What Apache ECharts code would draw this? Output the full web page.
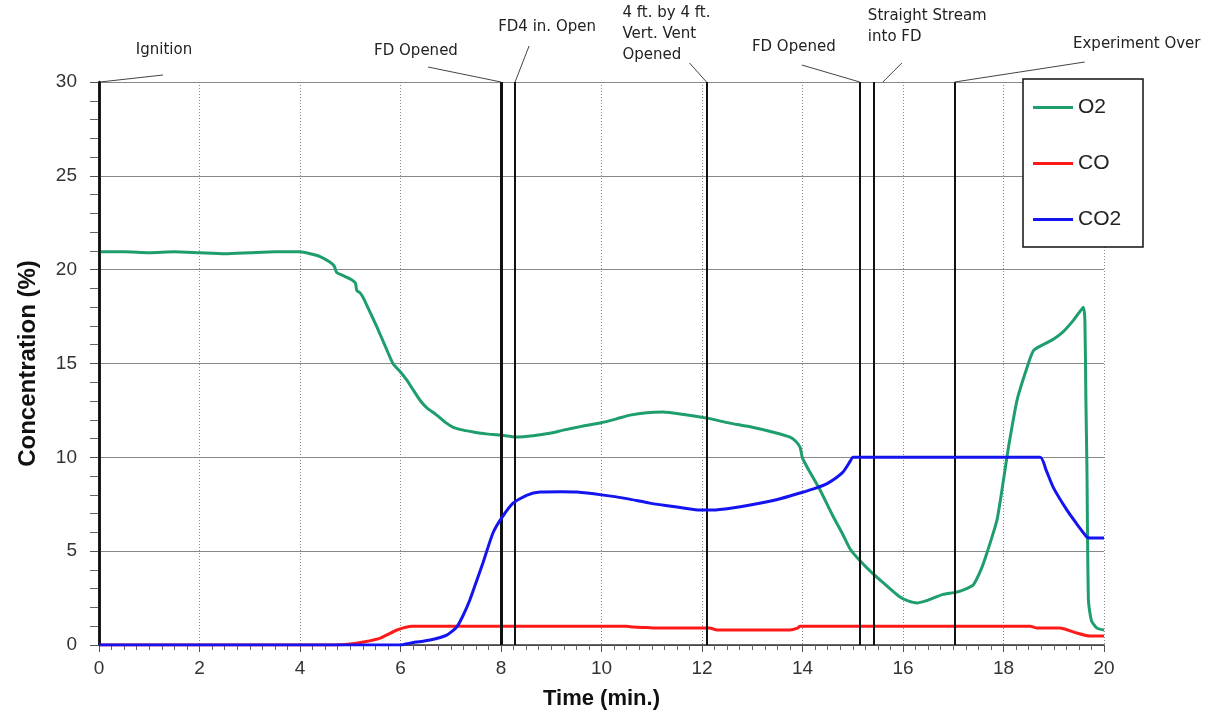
<!DOCTYPE html>
<html>
<head>
<meta charset="utf-8">
<script src="https://cdn.jsdelivr.net/npm/echarts@6/dist/echarts.min.js"></script>
<style>
html,body{margin:0;padding:0;background:#fff;}
#c{width:1221px;height:715px;}
</style>
</head>
<body>
<div id="c"></div>
<script>
// ---- Data ----
var seriesNames = ['O2', 'CO', 'CO2'];

var o2Time = [0,0.5,1,1.5,2,2.5,3,3.5,4,4.2,4.4,4.6,4.68,4.73,4.85,5.0,5.1,5.13,5.2,5.26,5.4,5.53,5.7,5.85,6.0,6.13,6.25,6.4,6.52,6.72,6.9,7.05,7.25,7.45,7.7,7.98,8.31,8.64,9.0,9.24,9.6,9.97,10.3,10.57,10.9,11.22,11.6,12.1,12.5,13.0,13.4,13.75,13.85,13.95,14.0,14.15,14.35,14.6,14.8,14.95,15.14,15.4,15.7,15.94,16.1,16.28,16.45,16.6,16.8,17.07,17.3,17.4,17.55,17.67,17.87,18.0,18.1,18.27,18.47,18.6,18.86,19.0,19.19,19.39,19.5,19.59,19.62,19.64,19.66,19.69,19.75,19.86,20.0];
var o2Val  = [20.95,20.95,20.9,20.95,20.9,20.85,20.9,20.95,20.95,20.85,20.7,20.4,20.2,19.85,19.7,19.5,19.3,18.9,18.75,18.5,17.7,16.95,15.9,15.0,14.55,14.1,13.6,13.0,12.65,12.25,11.85,11.6,11.45,11.35,11.25,11.19,11.08,11.15,11.3,11.45,11.65,11.83,12.05,12.25,12.38,12.41,12.3,12.09,11.85,11.6,11.35,11.08,10.9,10.55,9.96,9.2,8.26,6.9,5.9,5.1,4.5,3.8,3.1,2.56,2.35,2.24,2.35,2.5,2.7,2.82,3.05,3.2,4.0,4.9,6.66,8.8,10.55,13.05,14.8,15.7,16.1,16.3,16.7,17.3,17.7,18.0,17.3,13.0,9.5,2.4,1.3,0.9,0.8];

var coTime = [0,4.7,5.0,5.26,5.6,5.93,6.23,10.5,10.63,10.9,11.17,12.15,12.3,13.75,13.9,13.95,18.53,18.67,19.12,19.3,19.46,19.72,20.0];
var coVal  = [0,0,0.05,0.16,0.37,0.8,1.0,1.0,0.96,0.93,0.9,0.9,0.8,0.8,0.9,1.0,1.0,0.9,0.9,0.78,0.64,0.48,0.48];

var co2Time = [0,6.0,6.19,6.59,6.92,7.12,7.25,7.38,7.5,7.64,7.84,8.02,8.24,8.52,8.78,9.2,9.51,10.0,10.5,10.96,11.5,11.96,12.22,12.6,12.96,13.5,13.95,14.25,14.49,14.8,14.95,15.0,18.73,18.85,18.99,19.26,19.5,19.66,19.72,20.0];
var co2Val  = [0,0,0.1,0.27,0.53,0.96,1.6,2.4,3.3,4.37,5.97,6.8,7.56,7.99,8.15,8.17,8.15,8.0,7.8,7.56,7.35,7.19,7.19,7.3,7.46,7.75,8.1,8.35,8.6,9.2,9.8,10.0,10.0,9.3,8.4,7.2,6.3,5.75,5.7,5.7];

var eventTimes  = [0, 8.0, 8.28, 12.09, 15.14, 15.42, 17.03];
var eventLabels = ['Ignition', 'FD Opened', 'FD4 in. Open', '4 ft. by 4 ft.\nVert. Vent\nOpened', 'FD Opened', 'Straight Stream\ninto FD', 'Experiment Over'];

var xTicks = { min: 0, max: 20, interval: 2 };
var yTicks = { min: 0, max: 30, interval: 5 };

// ---- Styles / layout ----
var colors = ['#1e9e6c', '#ff1a1a', '#1414f0'];
var eventWidths = [2.5, 3, 2, 2, 2, 2, 2];
// per-event annotation layout: text anchor (dx from event px, y), align, line start (dx, y), line end dx
var annLayout = [
  { tx: 65,  ty: 50, align: 'center', lx: 64,  ly: 75, ex: 1 },
  { tx: -85, ty: 51, align: 'center', lx: -73, ly: 67, ex: 0 },
  { tx: 32,  ty: 27, align: 'center', lx: 14,  ly: 46, ex: 0 },
  { tx: -84, ty: 34, align: 'left',   lx: -17, ly: 63, ex: 0 },
  { tx: -66, ty: 47, align: 'center', lx: -58, ly: 65, ex: 0 },
  { tx: -6,  ty: 27, align: 'left',   lx: 28,  ly: 63, ex: 9 },
  { tx: 182, ty: 44, align: 'center', lx: 130, ly: 62, ex: 0 }
];

function pairs(t, v) { return t.map(function (x, i) { return [x, v[i]]; }); }

var chart = echarts.init(document.getElementById('c'), null, { renderer: 'canvas' });
var GRID = { left: 99, right: 117, top: 82, bottom: 70 };
var labelFont = { fontFamily: 'Liberation Sans', fontSize: 19, color: '#333' };

var option = {
  backgroundColor: '#fff',
  animation: false,
  grid: GRID,
  xAxis: {
    type: 'value', min: xTicks.min, max: xTicks.max, interval: xTicks.interval,
    name: 'Time (min.)', nameLocation: 'middle', nameGap: 43,
    nameTextStyle: { fontFamily: 'Liberation Sans', fontSize: 22, fontWeight: 'bold', color: '#111' },
    axisLine: { show: true, onZero: false, lineStyle: { color: '#333', width: 1.5 } },
    axisTick: { show: true, length: 7, lineStyle: { color: '#555' } },
    minorTick: { show: true, splitNumber: 8, length: 5, lineStyle: { color: '#666' } },
    axisLabel: Object.assign({ margin: 14 }, labelFont),
    splitLine: { show: true, lineStyle: { color: '#888', type: [1, 2], width: 1 } }
  },
  yAxis: {
    type: 'value', min: yTicks.min, max: yTicks.max, interval: yTicks.interval,
    name: 'Concentration (%)', nameLocation: 'middle', nameGap: 59,
    nameTextStyle: { fontFamily: 'Liberation Sans', fontSize: 24, fontWeight: 'bold', color: '#111' },
    axisLine: { show: true, onZero: false, lineStyle: { color: '#111', width: 2.5 } },
    axisTick: { show: true, length: 9, lineStyle: { color: '#555' } },
    minorTick: { show: true, splitNumber: 5, length: 9, lineStyle: { color: '#666' } },
    axisLabel: Object.assign({ margin: 22 }, labelFont),
    splitLine: { show: true, lineStyle: { color: '#888', width: 1 } }
  },
  legend: {
    show: true, orient: 'vertical', left: 1033, top: 97, z: 120, padding: 0,
    itemWidth: 40, itemHeight: 3, itemGap: 35, icon: 'rect',
    textStyle: { fontFamily: 'Liberation Sans', fontSize: 21, color: '#222' },
    data: seriesNames
  },
  series: [
    {
      name: seriesNames[0], type: 'line', showSymbol: false, symbol: 'none',
      data: pairs(o2Time, o2Val), lineStyle: { color: colors[0], width: 3 }, itemStyle: { color: colors[0] },
      smooth: 0.2, z: 3,
      markLine: {
        silent: true, symbol: 'none', label: { show: false },
        lineStyle: { color: '#111', width: 2, type: 'solid' },
        data: eventTimes.map(function (t, i) { return { xAxis: t, lineStyle: { width: eventWidths[i] } }; })
      }
    },
    {
      name: seriesNames[1], type: 'line', showSymbol: false, symbol: 'none',
      data: pairs(coTime, coVal), lineStyle: { color: colors[1], width: 3 }, itemStyle: { color: colors[1] },
      smooth: 0.2, z: 4
    },
    {
      name: seriesNames[2], type: 'line', showSymbol: false, symbol: 'none',
      data: pairs(co2Time, co2Val), lineStyle: { color: colors[2], width: 3 }, itemStyle: { color: colors[2] },
      smooth: 0.2, z: 5
    }
  ]
};
chart.setOption(option);

// annotations & legend box
var gfx = [];
gfx.push({ type: 'rect', z: 100, shape: { x: 1023, y: 79, width: 120, height: 168 },
  style: { fill: '#fff', stroke: '#111', lineWidth: 1.5 } });
var topY = GRID.top;
eventTimes.forEach(function (t, i) {
  var ex = chart.convertToPixel({ xAxisIndex: 0 }, t);
  var L = annLayout[i];
  gfx.push({ type: 'line', z: 50, shape: { x1: ex + L.lx, y1: L.ly, x2: ex + L.ex, y2: topY },
    style: { stroke: '#444', lineWidth: 1 } });
  gfx.push({ type: 'text', z: 50, x: ex + L.tx, y: L.ty,
    style: { text: eventLabels[i], fill: '#222', font: '15px "DejaVu Sans"', align: L.align,
             verticalAlign: 'middle', lineHeight: 21 } });
});
chart.setOption({ graphic: gfx });
</script>
</body>
</html>
